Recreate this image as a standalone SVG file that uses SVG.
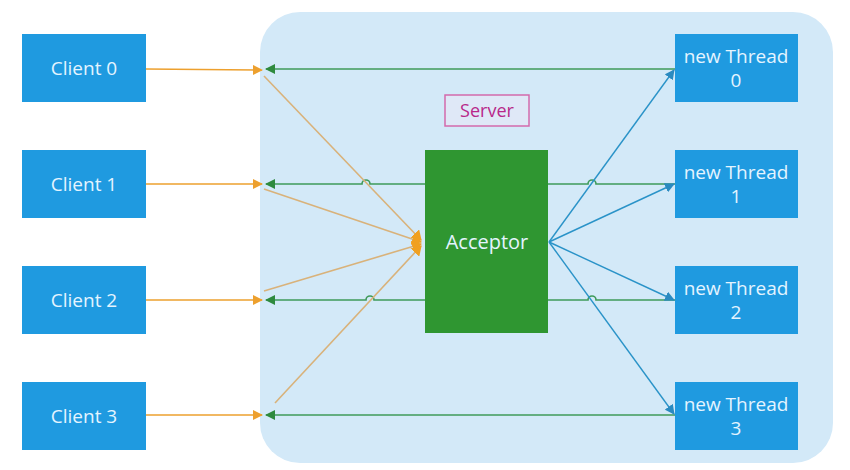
<svg xmlns="http://www.w3.org/2000/svg" width="850" height="470" viewBox="0 0 850 470">
<defs>
<style>
.box{fill:#1f9ae0}
.lbl{font-family:"Open Sans","Noto Sans",sans-serif;font-size:19px;fill:#e4f4ff;text-anchor:middle}
.or{stroke:#eda02e;stroke-width:1.6;fill:none}
.ori{stroke:#d9b27a;stroke-width:1.6;fill:none}
.gr{stroke:#3f9a5a;stroke-width:1.6;fill:none}
.bl{stroke:#2a93c8;stroke-width:1.4;fill:none}
</style>
<marker id="ao" markerWidth="10" markerHeight="10" refX="9" refY="5" orient="auto" markerUnits="userSpaceOnUse"><path d="M0,0 L10,5 L0,10 z" fill="#eda02e"/></marker>
<marker id="ag" markerWidth="10" markerHeight="10" refX="9" refY="5" orient="auto" markerUnits="userSpaceOnUse"><path d="M0,0 L10,5 L0,10 z" fill="#2e8a3e"/></marker>
<marker id="ab" markerWidth="10" markerHeight="10" refX="9" refY="5" orient="auto" markerUnits="userSpaceOnUse"><path d="M0,0 L10,5 L0,10 z" fill="#2a8ac0"/></marker>
<marker id="aoi" markerWidth="10" markerHeight="12" refX="9" refY="6" orient="auto" markerUnits="userSpaceOnUse"><path d="M0,0 L10,6 L0,12 z" fill="#f0a020"/></marker>
</defs>
<rect width="850" height="470" fill="#ffffff"/>
<g id="server">
<rect x="260" y="12" width="573" height="451" rx="40" fill="#d3e9f8"/>
<rect x="445" y="95" width="84" height="31" fill="#fbe9f5" fill-opacity="0.3" stroke="#d46aac" stroke-width="1.5"/>
<text x="487" y="117" class="lbl" style="fill:#b8288a;font-size:18px">Server</text>
</g>
<g id="connectors">
<path class="gr" d="M675,69 L266,69" marker-end="url(#ag)"/>
<path class="gr" d="M675,184 L596,184 a4,4 0 0 0 -8,0 L370,184 a4,4 0 0 0 -8,0 L266,184" marker-end="url(#ag)"/>
<path class="gr" d="M675,300 L596,300 a4,4 0 0 0 -8,0 L374,300 a4,4 0 0 0 -8,0 L266,300" marker-end="url(#ag)"/>
<path class="gr" d="M675,415 L266,415" marker-end="url(#ag)"/>
<path class="or" d="M146,69 L262,70" marker-end="url(#ao)"/>
<path class="or" d="M146,184 L262,184" marker-end="url(#ao)"/>
<path class="or" d="M146,300 L262,300" marker-end="url(#ao)"/>
<path class="or" d="M146,415 L262,415" marker-end="url(#ao)"/>
<path class="ori" d="M264,76 L421,240" marker-end="url(#aoi)"/>
<path class="ori" d="M264,189 L421,242" marker-end="url(#aoi)"/>
<path class="ori" d="M264,291 L421,244" marker-end="url(#aoi)"/>
<path class="ori" d="M275,403 L421,246" marker-end="url(#aoi)"/>
<path class="bl" d="M549,242 L674,70" marker-end="url(#ab)"/>
<path class="bl" d="M549,242 L674,184" marker-end="url(#ab)"/>
<path class="bl" d="M549,242 L674,300" marker-end="url(#ab)"/>
<path class="bl" d="M549,242 L674,414" marker-end="url(#ab)"/>
</g>
<g id="acceptor">
<rect x="425" y="150" width="123" height="183" fill="#2f9631"/>
<text x="487" y="249" class="lbl" style="font-size:20px">Acceptor</text>
</g>
<g id="client0"><rect class="box" x="22" y="34" width="124" height="68"/><text class="lbl" x="84" y="75">Client 0</text></g>
<g id="client1"><rect class="box" x="22" y="150" width="124" height="68"/><text class="lbl" x="84" y="191">Client 1</text></g>
<g id="client2"><rect class="box" x="22" y="266" width="124" height="68"/><text class="lbl" x="84" y="307">Client 2</text></g>
<g id="client3"><rect class="box" x="22" y="382" width="124" height="68"/><text class="lbl" x="84" y="423">Client 3</text></g>
<g id="thread0"><rect class="box" x="675" y="34" width="123" height="68"/><text class="lbl" x="736" y="63">new Thread</text><text class="lbl" x="736" y="87">0</text></g>
<g id="thread1"><rect class="box" x="675" y="150" width="123" height="68"/><text class="lbl" x="736" y="179">new Thread</text><text class="lbl" x="736" y="203">1</text></g>
<g id="thread2"><rect class="box" x="675" y="266" width="123" height="68"/><text class="lbl" x="736" y="295">new Thread</text><text class="lbl" x="736" y="319">2</text></g>
<g id="thread3"><rect class="box" x="675" y="382" width="123" height="68"/><text class="lbl" x="736" y="411">new Thread</text><text class="lbl" x="736" y="435">3</text></g>
</svg>
